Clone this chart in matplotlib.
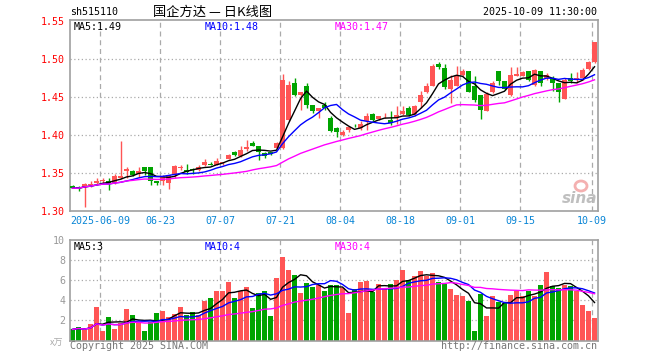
import numpy as np
import matplotlib
matplotlib.use("Agg")
import matplotlib.pyplot as plt
from matplotlib.patches import Ellipse

plt.rcParams['font.family'] = ['DejaVu Sans Mono', 'Noto Sans CJK SC']

# --- data (88 trading days, 2025-05-30 .. 2025-10-09) ---
opens = [1.333, 1.332, 1.332, 1.334, 1.337, 1.339, 1.340, 1.337, 1.343, 1.352,
         1.352, 1.349, 1.358, 1.358, 1.339, 1.339, 1.337, 1.348, 1.356, 1.354,
         1.355, 1.354, 1.360, 1.362, 1.361, 1.363, 1.368, 1.377, 1.372, 1.382,
         1.390, 1.385, 1.376, 1.377, 1.383, 1.383, 1.420, 1.469, 1.453, 1.465,
         1.440, 1.432, 1.440, 1.423, 1.409, 1.400, 1.406, 1.4145, 1.409, 1.419,
         1.428, 1.421, 1.426, 1.420, 1.422, 1.428, 1.435, 1.428, 1.444, 1.457,
         1.465, 1.494, 1.488, 1.460, 1.465, 1.479, 1.484, 1.465, 1.452, 1.432,
         1.456, 1.484, 1.471, 1.452, 1.478, 1.478, 1.484, 1.466, 1.484, 1.475,
         1.475, 1.468, 1.447, 1.475, 1.473, 1.475, 1.487, 1.496]
highs = [1.334, 1.333, 1.337, 1.340, 1.343, 1.344, 1.344, 1.349, 1.392, 1.358,
         1.354, 1.358, 1.358, 1.358, 1.339, 1.347, 1.348, 1.361, 1.361, 1.362,
         1.357, 1.360, 1.368, 1.364, 1.370, 1.365, 1.375, 1.379, 1.385, 1.394,
         1.392, 1.386, 1.377, 1.378, 1.391, 1.480, 1.471, 1.475, 1.457, 1.468,
         1.440, 1.436, 1.444, 1.425, 1.411, 1.406, 1.411, 1.4145, 1.418, 1.429,
         1.429, 1.425, 1.429, 1.431, 1.438, 1.438, 1.438, 1.440, 1.458, 1.468,
         1.493, 1.496, 1.493, 1.479, 1.491, 1.487, 1.484, 1.477, 1.452, 1.456,
         1.471, 1.484, 1.471, 1.490, 1.490, 1.484, 1.484, 1.487, 1.484, 1.482,
         1.477, 1.468, 1.475, 1.482, 1.483, 1.488, 1.497, 1.522]
lows = [1.330, 1.326, 1.305, 1.332, 1.336, 1.336, 1.328, 1.335, 1.342, 1.343,
        1.346, 1.345, 1.348, 1.334, 1.334, 1.334, 1.329, 1.343, 1.354, 1.349,
        1.349, 1.352, 1.359, 1.360, 1.360, 1.361, 1.368, 1.372, 1.371, 1.379,
        1.385, 1.367, 1.370, 1.374, 1.382, 1.382, 1.418, 1.451, 1.433, 1.436,
        1.429, 1.422, 1.433, 1.404, 1.398, 1.399, 1.404, 1.411, 1.406, 1.406,
        1.418, 1.420, 1.422, 1.413, 1.414, 1.426, 1.425, 1.425, 1.436, 1.455,
        1.464, 1.487, 1.461, 1.442, 1.464, 1.477, 1.456, 1.443, 1.421, 1.431,
        1.455, 1.466, 1.459, 1.451, 1.477, 1.477, 1.471, 1.464, 1.465, 1.473,
        1.458, 1.443, 1.447, 1.468, 1.468, 1.473, 1.486, 1.495]
closes = [1.330, 1.330, 1.335, 1.336, 1.340, 1.341, 1.336, 1.346, 1.346, 1.355,
          1.348, 1.352, 1.352, 1.339, 1.337, 1.345, 1.348, 1.359, 1.358, 1.351,
          1.354, 1.358, 1.365, 1.361, 1.366, 1.365, 1.374, 1.374, 1.380, 1.384,
          1.386, 1.377, 1.372, 1.375, 1.390, 1.473, 1.466, 1.453, 1.457, 1.440,
          1.432, 1.436, 1.436, 1.405, 1.404, 1.404, 1.410, 1.414, 1.4145, 1.425,
          1.420, 1.425, 1.4265, 1.416, 1.426, 1.431, 1.426, 1.438, 1.452, 1.465,
          1.491, 1.490, 1.463, 1.472, 1.477, 1.484, 1.457, 1.446, 1.433, 1.454,
          1.469, 1.471, 1.461, 1.479, 1.480, 1.483, 1.473, 1.485, 1.468, 1.479,
          1.468, 1.456, 1.473, 1.471, 1.475, 1.485, 1.496, 1.522]
volumes = [1.1, 1.3, 1.0, 1.6, 3.3, 0.9, 2.3, 1.1, 1.7, 3.1,
           2.5, 1.8, 0.9, 1.8, 2.7, 2.9, 2.3, 2.6, 3.3, 2.5,
           2.8, 2.5, 3.9, 4.2, 4.9, 4.9, 5.8, 4.2, 4.9, 5.3,
           3.2, 4.7, 4.9, 2.4, 6.2, 8.3, 7.0, 6.5, 4.7, 5.7,
           5.3, 5.5, 4.9, 5.5, 5.5, 5.2, 2.7, 5.1, 5.8, 5.9,
           4.8, 5.6, 5.2, 5.6, 6.0, 7.0, 6.0, 6.4, 6.9, 6.4,
           6.7, 5.8, 5.6, 5.1, 4.5, 4.4, 3.9, 0.9, 4.6, 2.4,
           4.4, 3.8, 3.7, 4.5, 4.9, 4.4, 4.9, 4.4, 5.5, 6.8,
           5.4, 5.2, 5.5, 5.4, 4.9, 3.5, 2.9, 2.2]

tick_idx = [5, 15, 25, 35, 45, 55, 65, 75, 87]
tick_labels = ['2025-06-09', '06-23', '07-07', '07-21', '08-04',
               '08-18', '09-01', '09-15', '10-09']
price_ticks = [1.30, 1.35, 1.40, 1.45, 1.50, 1.55]
vol_ticks = [2, 4, 6, 8, 10]

RED = '#ff5555'
GREEN = '#00a400'
GRID = '#aaaaaa'
FRAME = '#a0a0a0'


def moving_avg(vals, n):
    vals = np.asarray(vals, float)
    out = np.empty_like(vals)
    for k in range(len(vals)):
        out[k] = vals[max(0, k - n + 1):k + 1].mean()
    return out


n = len(closes)
xs = np.arange(n) + 0.42
o = np.array(opens)
c = np.array(closes)
up = c >= o
colors = [RED if u else GREEN for u in up]

fig = plt.figure(figsize=(6.6, 3.6), dpi=100)
W, H = 660.0, 360.0
ax = fig.add_axes([70 / W, (H - 211) / H, 528 / W, 191 / H])
axv = fig.add_axes([70 / W, (H - 340.5) / H, 528 / W, 100.5 / H])

for a in (ax, axv):
    a.set_xlim(0, n)
    for s in a.spines.values():
        s.set_color(FRAME)
        s.set_linewidth(1.2)
    for t in tick_idx:
        a.axvline(t, color=GRID, lw=0.9, ls=(0, (4, 3)), zorder=0)

# --- price panel ---
ax.set_ylim(1.30, 1.5513)
for p in price_ticks[1:-1]:
    ax.axhline(p, color=GRID, lw=0.9, ls=(0, (1, 2)), zorder=0)

ax.vlines(xs, lows, highs, colors=colors, lw=1.0, zorder=2)
body_h = np.maximum(np.abs(c - o), 0.0009)
ax.bar(xs, body_h, bottom=np.minimum(o, c), width=0.78, color=colors,
       linewidth=0, zorder=3)

ax.plot(xs, moving_avg(closes, 5), color='black', lw=1.0, zorder=4)
ax.plot(xs, moving_avg(closes, 10), color='#0000ff', lw=1.0, zorder=4)
ax.plot(xs, moving_avg(closes, 30), color='#ff00ff', lw=1.0, zorder=4)

ax.set_yticks(price_ticks)
ax.set_yticklabels([f'{p:.2f}' for p in price_ticks], color='#ff0000', fontsize=7.2)
ax.set_xticks(tick_idx)
ax.set_xticklabels(tick_labels, color='#0a86d6', fontsize=7.2)
ax.tick_params(length=0, pad=3.5)

ax.text(4 / 528, 1 - 7 / 191, 'MA5:1.49', transform=ax.transAxes, fontsize=7.2,
        color='black', va='center')
ax.text(135 / 528, 1 - 7 / 191, 'MA10:1.48', transform=ax.transAxes, fontsize=7.2,
        color='#0000ff', va='center')
ax.text(265 / 528, 1 - 7 / 191, 'MA30:1.47', transform=ax.transAxes, fontsize=7.2,
        color='#ff00ff', va='center')

# --- volume panel ---
axv.set_ylim(0, 10)
for v in vol_ticks[:-1]:
    axv.axhline(v, color=GRID, lw=0.9, ls=(0, (1, 2)), zorder=0)
axv.bar(xs, volumes, width=0.82, color=colors, linewidth=0, zorder=2)
axv.plot(xs, moving_avg(volumes, 5), color='black', lw=1.0, zorder=3)
axv.plot(xs, moving_avg(volumes, 10), color='#0000ff', lw=1.0, zorder=3)
axv.plot(xs, moving_avg(volumes, 30), color='#ff00ff', lw=1.0, zorder=3)
axv.set_yticks(vol_ticks)
axv.set_yticklabels([str(v) for v in vol_ticks], color='#999999', fontsize=7.2)
axv.set_xticks([])
axv.tick_params(length=0, pad=3.5)

axv.text(4 / 528, 1 - 7 / 100.5, 'MA5:3', transform=axv.transAxes, fontsize=7.2,
         color='black', va='center')
axv.text(135 / 528, 1 - 7 / 100.5, 'MA10:4', transform=axv.transAxes, fontsize=7.2,
         color='#0000ff', va='center')
axv.text(265 / 528, 1 - 7 / 100.5, 'MA30:4', transform=axv.transAxes, fontsize=7.2,
         color='#ff00ff', va='center')

# --- header / footer texts ---
fig.text(70 / W, 1 - 12 / H, 'sh515110', fontsize=7.2, va='center', ha='left')
fig.text(213 / W, 1 - 12 / H, '国企方达 — 日K线图', fontsize=9.5, va='center',
         ha='center', family=['Noto Sans CJK SC', 'DejaVu Sans'])
fig.text(597 / W, 1 - 12 / H, '2025-10-09 11:30:00', fontsize=7.2, va='center',
         ha='right')
fig.text(70 / W, 1 - 346 / H, 'Copyright 2025 SINA.COM', fontsize=7.2,
         color='#777777', va='center', ha='left')
fig.text(597 / W, 1 - 346 / H, 'http://finance.sina.com.cn', fontsize=7.2,
         color='#777777', va='center', ha='right')
fig.text(57 / W, 1 - 343 / H, 'x万', fontsize=6.5, color='#aaaaaa', va='center',
         ha='center', family=['Noto Sans CJK SC', 'DejaVu Sans'])

# sina watermark
fig.patches.append(Ellipse((581 / W, 1 - 186 / H), 12 / W, 10 / H,
                           transform=fig.transFigure, fill=False,
                           edgecolor='#f4b0b0', lw=2.0, zorder=5))
fig.text(580 / W, 1 - 198 / H, 'sina', fontsize=11, color='#b8b8b8',
         fontweight='bold', style='italic', va='center', ha='center',
         family='DejaVu Sans', alpha=0.9)

fig.savefig('out.png', dpi=100)
